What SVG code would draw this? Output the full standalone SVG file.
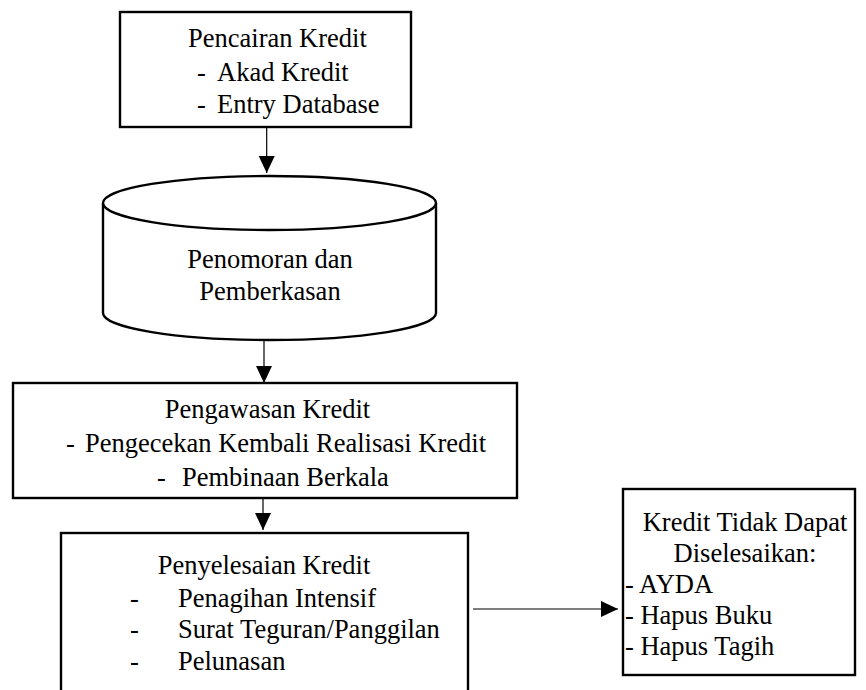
<svg xmlns="http://www.w3.org/2000/svg" width="866" height="690" viewBox="0 0 866 690">
  <style>
    .box { fill: #ffffff; stroke: #000000; stroke-width: 2.4; }
    .conn { fill: none; stroke: #000000; stroke-width: 1.2; }
    text { font-family: "Liberation Serif", "Times New Roman", serif; font-size: 26.5px; fill: #000000; }
    .c { text-anchor: middle; }
  </style>
  <defs>
    <marker id="arrow" markerUnits="userSpaceOnUse" markerWidth="17" markerHeight="17" viewBox="0 0 17 17" refX="17" refY="8.5" orient="auto">
      <path d="M0,0.5 L17,8.5 L0,16.5 Z" fill="#000000"/>
    </marker>
  </defs>

  <rect width="866" height="690" fill="#ffffff"/>

  <!-- connectors -->
  <g id="connectors">
    <line class="conn" x1="266.7" y1="128" x2="266.7" y2="173" marker-end="url(#arrow)"/>
    <line class="conn" x1="264" y1="341" x2="264" y2="383" marker-end="url(#arrow)"/>
    <line class="conn" x1="263" y1="499" x2="263" y2="530" marker-end="url(#arrow)"/>
    <line class="conn" x1="473" y1="609" x2="618" y2="609" marker-end="url(#arrow)"/>
  </g>

  <!-- disbursement -->
  <g id="pencairan">
    <rect class="box" x="120" y="12" width="291" height="115"/>
    <text x="188" y="47">Pencairan Kredit</text>
    <text y="81"><tspan x="197">-</tspan><tspan x="217">Akad Kredit</tspan></text>
    <text y="113"><tspan x="197">-</tspan><tspan x="217">Entry Database</tspan></text>
  </g>

  <!-- numbering / filing store -->
  <g id="penomoran">
    <path class="box" d="M103,203 A166.5,27 0 0 1 436,203 L436,313 A166.5,27 0 0 1 103,313 Z"/>
    <path class="box" fill="none" d="M103,203 A166.5,27 0 0 0 436,203"/>
    <text class="c" x="270" y="268">Penomoran dan</text>
    <text class="c" x="270" y="300">Pemberkasan</text>
  </g>

  <!-- monitoring -->
  <g id="pengawasan">
    <rect class="box" x="13" y="383" width="504" height="115"/>
    <text class="c" x="267.5" y="418">Pengawasan Kredit</text>
    <text y="452"><tspan x="66">-</tspan><tspan x="85">Pengecekan Kembali Realisasi Kredit</tspan></text>
    <text y="486"><tspan x="157">-</tspan><tspan x="182">Pembinaan Berkala</tspan></text>
  </g>

  <!-- settlement -->
  <g id="penyelesaian">
    <rect class="box" x="61" y="533" width="407" height="170"/>
    <text class="c" x="264" y="574">Penyelesaian Kredit</text>
    <text y="607"><tspan x="130">-</tspan><tspan x="178">Penagihan Intensif</tspan></text>
    <text y="638"><tspan x="130">-</tspan><tspan x="178">Surat Teguran/Panggilan</tspan></text>
    <text y="670"><tspan x="130">-</tspan><tspan x="178">Pelunasan</tspan></text>
  </g>

  <!-- unresolved -->
  <g id="tidak-dapat">
    <rect class="box" x="623" y="489" width="232" height="186"/>
    <text class="c" x="745" y="531">Kredit Tidak Dapat</text>
    <text class="c" x="745" y="562">Diselesaikan:</text>
    <text x="625" y="593">- AYDA</text>
    <text x="625" y="624">- Hapus Buku</text>
    <text x="625" y="655">- Hapus Tagih</text>
  </g>
</svg>
